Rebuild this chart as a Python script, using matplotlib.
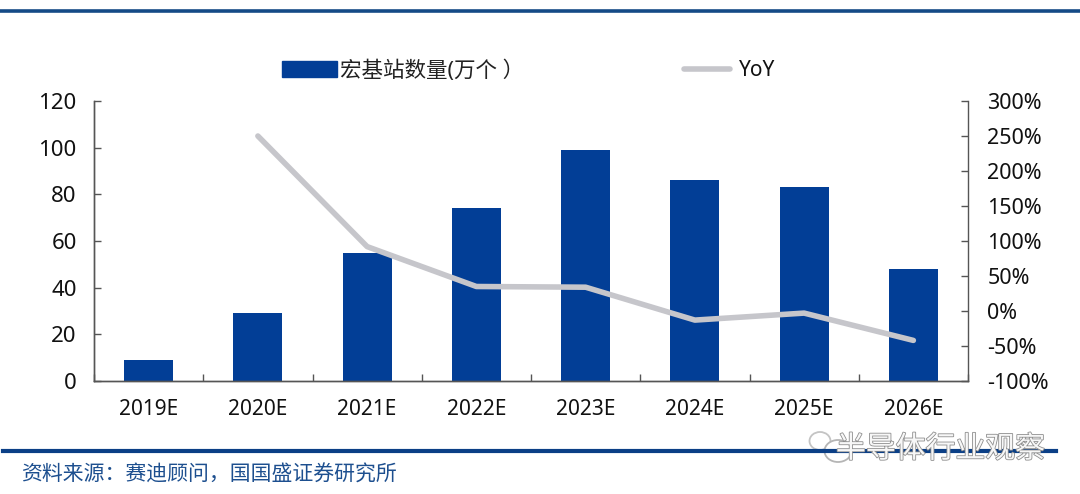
import numpy as np
from matplotlib import pyplot as plt
from matplotlib.lines import Line2D
from matplotlib.patches import Ellipse
import matplotlib.patheffects as pe

plt.rcParams['font.family'] = ['Noto Sans', 'Noto Sans CJK SC', 'DejaVu Sans']

years = ["2019E", "2020E", "2021E", "2022E", "2023E", "2024E", "2025E", "2026E"]
stations = [9, 29, 55, 74, 99, 86, 83, 48]
yoy = [np.nan, 250, 92, 35, 34, -13, -3, -42]
left_ticks = [0, 20, 40, 60, 80, 100, 120]
right_ticks = [-100, -50, 0, 50, 100, 150, 200, 250, 300]

W, H = 1080, 494
BLUE = "#023e96"
RULE = "#154a86"
GREY = "#c6c6cb"
AXIS = "#555555"

fig = plt.figure(figsize=(W / 100, H / 100), dpi=100)
ax1 = fig.add_axes([94 / W, 1 - 381 / H, (968 - 94) / W, (381 - 101) / H])
ax2 = ax1.twinx()

x = np.arange(len(years))
ax1.bar(x, stations, width=0.45, color=BLUE, zorder=2)
ax2.plot(x, yoy, color=GREY, lw=4, solid_capstyle="round", zorder=3)

ax1.set_xlim(-0.5, 7.5)
ax1.set_ylim(0, 120)
ax2.set_ylim(-100, 300)
ax1.set_xticks(np.arange(-0.5, 8, 1))
ax1.set_xticklabels([])
for i, y in enumerate(years):
    ax1.text(i, -0.1, y, transform=ax1.get_xaxis_transform(), ha="center", va="center",
             fontsize=15, color="#111111")
ax1.set_yticks(left_ticks)
ax2.set_yticks(right_ticks)
ax2.set_yticklabels([f"{t}%" for t in right_ticks])

ax1.tick_params(axis="x", direction="in", length=5, width=1, color=AXIS)
ax1.tick_params(axis="y", direction="in", length=5, width=1, color=AXIS, labelsize=16, labelcolor="#111111", pad=12.5)
ax2.tick_params(axis="y", direction="in", length=5, width=1, color=AXIS, labelsize=15.5, labelcolor="#111111", pad=14)
for ax in (ax1, ax2):
    ax.spines["top"].set_visible(False)
    for s in ("left", "right", "bottom"):
        ax.spines[s].set_color(AXIS)
        ax.spines[s].set_linewidth(1)
ax1.set_zorder(ax2.get_zorder() - 1)
ax2.patch.set_visible(False)
ax1.spines["right"].set_visible(False)

# rules top and bottom
fig.add_artist(Line2D([0, 1], [1 - 11 / H] * 2, color=RULE, lw=2.6))
fig.add_artist(Line2D([3 / W, 1056 / W], [1 - 451 / H] * 2, color="#0b3f86", lw=3))

# legend drawn by hand to sit where the original has it
fig.patches.append(plt.Rectangle((282 / W, 1 - 77 / H), 55 / W, 16 / H, transform=fig.transFigure,
                                 color=BLUE, figure=fig))
fig.text(340 / W, 1 - 71 / H, "宏基站数量(万个 ）", fontsize=15.5, va="center", color="#222222")
fig.add_artist(Line2D([684 / W, 730 / W], [1 - 69 / H] * 2, color=GREY, lw=4, solid_capstyle="round"))
fig.text(739 / W, 1 - 71 / H, "YoY", fontsize=15, va="center", color="#111111")

fig.text(21 / W, 1 - 475 / H, "资料来源：赛迪顾问，国国盛证券研究所", fontsize=15, va="center",
         color="#1d4f8f", style="italic")

# watermark
fig.patches.append(Ellipse((820 / W, 1 - 441 / H), 21 / W, 18 / H, transform=fig.transFigure,
                           facecolor="#ffffff", edgecolor="#c4c4c4", lw=1.3, figure=fig))
fig.patches.append(Ellipse((838 / W, 1 - 451 / H), 27 / W, 22 / H, transform=fig.transFigure,
                           facecolor="#ffffff", edgecolor="#b5b5b5", lw=1.3, figure=fig))
fig.text(836 / W, 1 - 450 / H, "半导体行业观察", fontsize=21.5, va="center", color="#f7f7f7",
         zorder=5, path_effects=[pe.withStroke(linewidth=1.2, foreground="#8f8f8f")])

fig.savefig("out.png", dpi=100)
plt.close()
